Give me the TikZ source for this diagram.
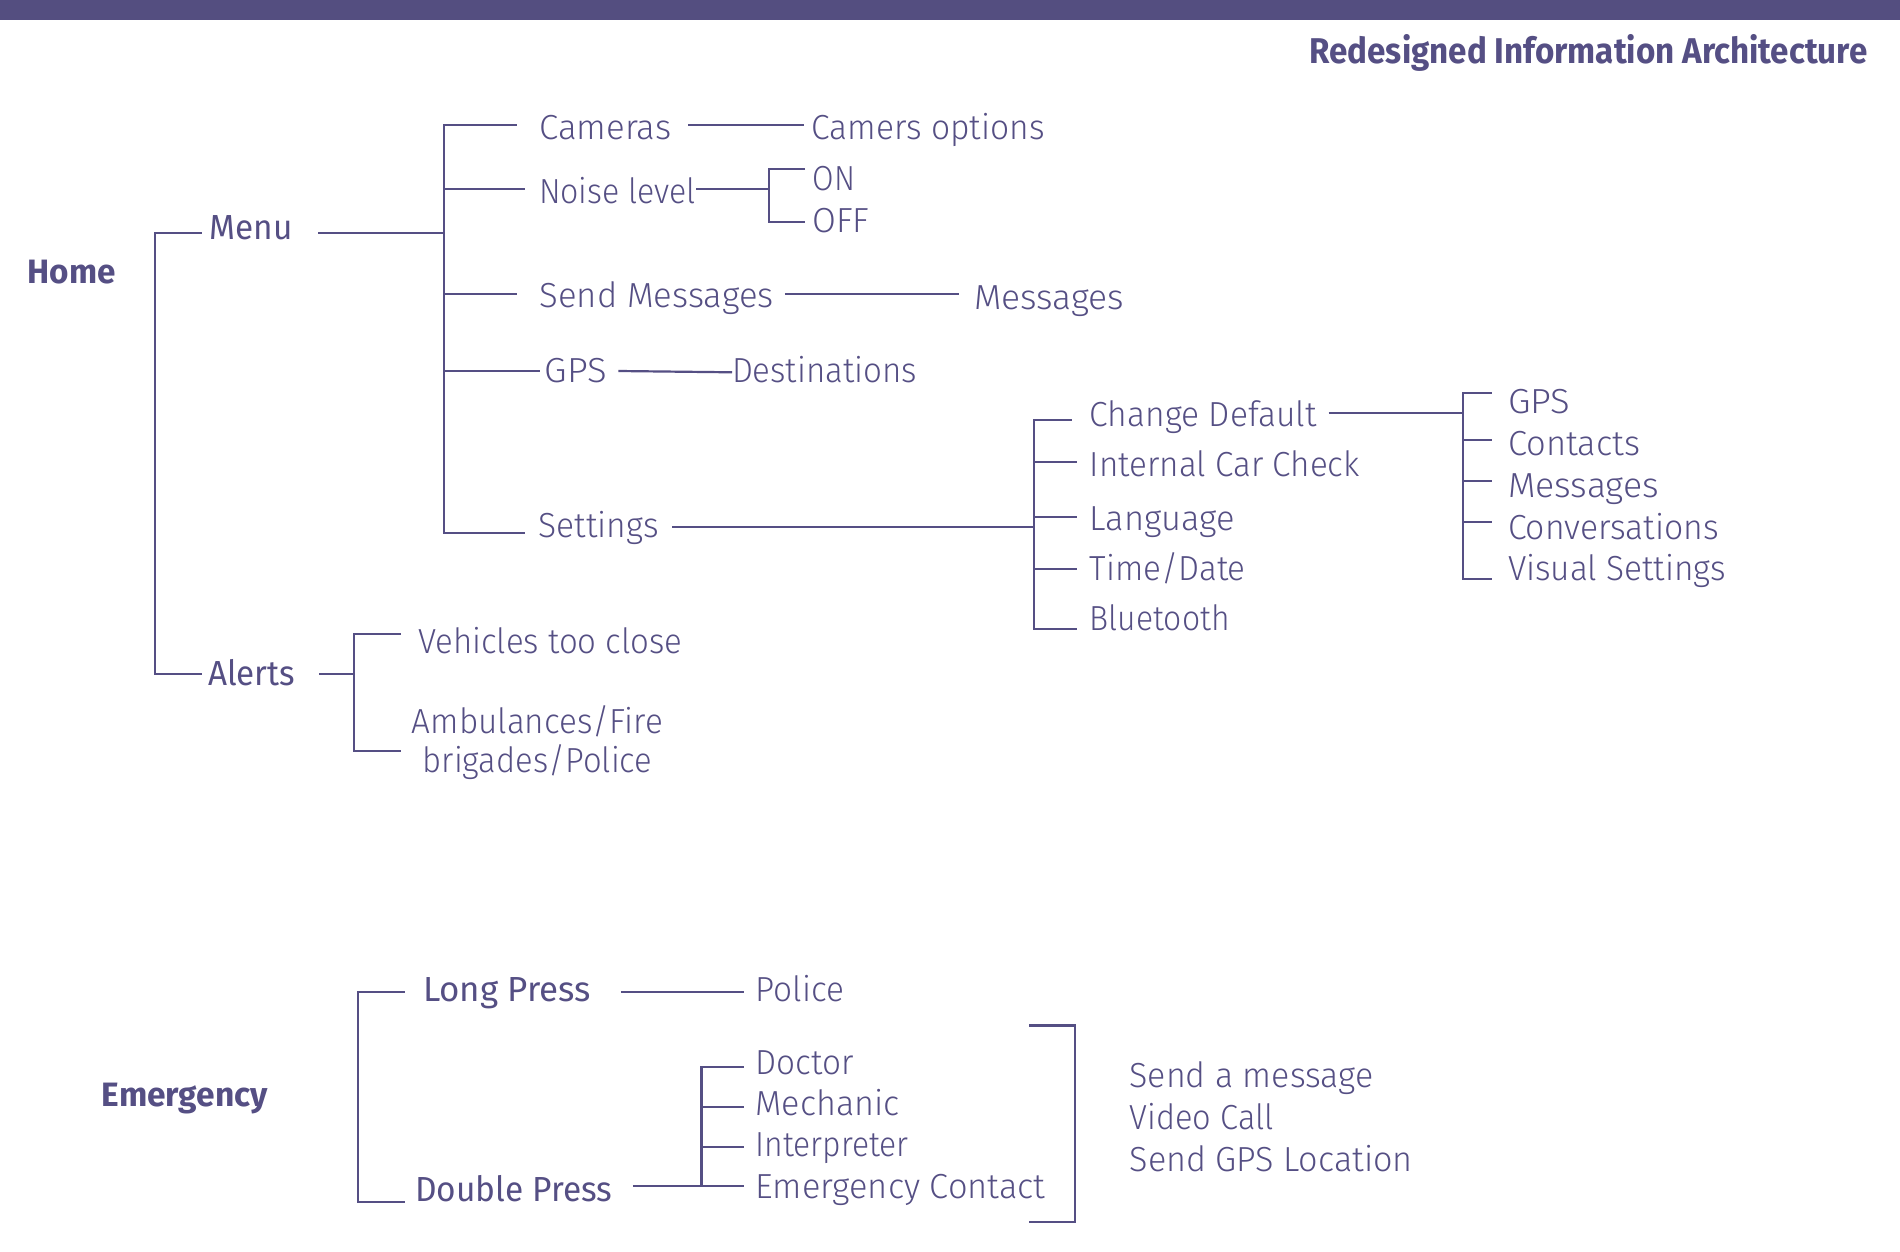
\documentclass[tikz,border=0pt]{standalone}
\usepackage{fontspec}
\usepackage{graphicx}
\setmainfont{Fira Sans}[UprightFont={* Light}, BoldFont={* Bold}]
\newfontfamily\regfont{Fira Sans}
\newfontfamily\boldfont{Fira Sans}[UprightFont={* Bold}]
\definecolor{ac}{RGB}{85,79,132}
\definecolor{barc}{RGB}{84,78,128}
\newcommand\W[2]{\resizebox{#1pt}{\height}{#2}}
\tikzset{
  conn/.style={draw=ac, line width=2.2pt, line join=miter},
  lt/.style={anchor=base west, inner sep=0pt, outer sep=0pt, text=ac, font=\fontsize{34.8}{39}\selectfont},
  rg/.style={lt, font=\regfont\fontsize{34.8}{40}\selectfont},
  bd/.style={lt, font=\boldfont\fontsize{33.8}{40}\selectfont},
}
\begin{document}
\begin{tikzpicture}[x=1pt, y=-1pt]
\useasboundingbox (0,0) rectangle (1900,1252);
\fill[white] (0,0) rectangle (1900,1252);
\fill[barc] (0,0) rectangle (1900,20);

% title
\node[bd, anchor=base east, font=\boldfont\fontsize{35.8}{40}\selectfont] (title) at (1867.5,64) {\W{558}{Redesigned Information Architecture}};

% ---------- Home ----------
\node[bd] (home) at (27.7,283.3) {\W{88}{Home}};
\node[rg] (menu) at (209.8,240) {\W{83}{Menu}};
\node[rg] (alerts) at (208,685) {\W{87}{Alerts}};

\coordinate (hT) at (155,232.7);
\coordinate (hB) at (155,674);
\coordinate (hM) at (201.8,232.7);
\coordinate (hA) at (201.5,674);
\draw[conn] (hM) -- (hT) -- (hB) -- (hA);

% Menu
\node[lt] (cameras) at (539.3,139.3) {\W{132}{Cameras}};
\node[lt] (camopt) at (811.6,139.3) {\W{233}{Camers options}};
\node[lt] (noise) at (539,203.3) {\W{157}{Noise level}};
\node[lt] (on) at (812.5,190.7) {\W{42.5}{ON}};
\node[lt] (off) at (812.5,232.3) {\W{57}{OFF}};
\node[lt] (sendmsg) at (539.7,307.7) {\W{234}{Send Messages}};
\node[lt] (messages) at (974,309.3) {\W{150}{Messages}};
\node[lt] (gps) at (544.6,382.7) {\W{62}{GPS}};
\node[lt] (dest) at (732,382.7) {\W{185}{Destinations}};
\node[lt] (settings) at (538.8,537.3) {\W{120}{Settings}};

\coordinate (mR) at (318,232.7);
\coordinate (mJ) at (444,232.7);
\draw[conn] (mR) -- (mJ);
\coordinate (mT) at (444,125);
\coordinate (mB) at (444,533.3);
\coordinate (mc) at (516.5,125);
\coordinate (mn) at (525.4,189.3);
\coordinate (mn0) at (444,189.3);
\coordinate (ms) at (516.5,294.3);
\coordinate (ms0) at (444,294.3);
\coordinate (mg) at (540,371);
\coordinate (mg0) at (444,371);
\coordinate (mse) at (525.4,533.3);
\draw[conn] (mc) -- (mT) -- (mB) -- (mse);
\draw[conn] (mn0) -- (mn);
\draw[conn] (ms0) -- (ms);
\draw[conn] (mg0) -- (mg);

% Cameras
\coordinate (c1) at (688.4,125);
\coordinate (c2) at (803.6,125);
\draw[conn] (c1) -- (c2);
% Noise
\coordinate (n1) at (696.4,189.3);
\coordinate (n2) at (769.2,189.3);
\coordinate (nT) at (769.2,169);
\coordinate (nB) at (769.2,222.3);
\coordinate (nOn) at (805,169);
\coordinate (nOff) at (805,222.3);
\draw[conn] (n1) -- (n2);
\draw[conn] (nOn) -- (nT) -- (nB) -- (nOff);
% Send messages
\coordinate (s1) at (784.8,294.3);
\coordinate (s2) at (958.5,294.3);
\draw[conn] (s1) -- (s2);
% GPS
\coordinate (g1) at (618.3,371);
\coordinate (g2) at (732,372.3);
\draw[conn] (g1) -- (g2);

% Settings
\node[lt] (chdef) at (1089.7,426.7) {\W{227}{Change Default}};
\node[lt] (icc) at (1089.7,476.7) {\W{270}{Internal Car Check}};
\node[lt] (lang) at (1089.7,530) {\W{145}{Language}};
\node[lt] (time) at (1089.7,580) {\W{156}{Time/Date}};
\node[lt] (bt) at (1089.7,630.7) {\W{140}{Bluetooth}};

\coordinate (st1) at (672,526.7);
\coordinate (st2) at (1033.6,526.7);
\draw[conn] (st1) -- (st2);
\coordinate (sT) at (1033.6,420);
\coordinate (sB) at (1033.6,629.3);
\coordinate (sc) at (1071.8,420);
\coordinate (si0) at (1033.6,462.3);
\coordinate (si) at (1077,462.3);
\coordinate (sl0) at (1033.6,517.3);
\coordinate (sl) at (1077,517.3);
\coordinate (sd0) at (1033.6,569.3);
\coordinate (sd) at (1077,569.3);
\coordinate (sb) at (1077,629.3);
\draw[conn] (sc) -- (sT) -- (sB) -- (sb);
\draw[conn] (si0) -- (si);
\draw[conn] (sl0) -- (sl);
\draw[conn] (sd0) -- (sd);

% Change default
\node[lt] (sgps) at (1508,413.3) {\W{62}{GPS}};
\node[lt] (contacts) at (1508,455) {\W{132}{Contacts}};
\node[lt] (smsgs) at (1508,497.3) {\W{151}{Messages}};
\node[lt] (conv) at (1508,539) {\W{211}{Conversations}};
\node[lt] (visual) at (1508,580) {\W{218}{Visual Settings}};

\coordinate (cd1) at (1328.5,413.3);
\coordinate (cd2) at (1462.7,413.3);
\draw[conn] (cd1) -- (cd2);
\coordinate (rT) at (1462.7,393.3);
\coordinate (rB) at (1462.7,579.3);
\coordinate (rg) at (1491.7,393.3);
\coordinate (rc0) at (1462.7,440);
\coordinate (rc) at (1491.7,440);
\coordinate (rm0) at (1462.7,480.7);
\coordinate (rm) at (1491.7,480.7);
\coordinate (rv0) at (1462.7,522);
\coordinate (rv) at (1491.7,522);
\coordinate (rs) at (1491.7,579.3);
\draw[conn] (rg) -- (rT) -- (rB) -- (rs);
\draw[conn] (rc0) -- (rc);
\draw[conn] (rm0) -- (rm);
\draw[conn] (rv0) -- (rv);

% Alerts
\node[lt] (vehicles) at (418.4,653.3) {\W{264}{Vehicles too close}};
\node[lt, anchor=base, align=center] (amb) at (537.5,772.3) {\W{251}{Ambulances/Fire}\\\W{229.4}{brigades/Police}};
\coordinate (a1) at (319,674);
\coordinate (a2) at (353.6,674);
\draw[conn] (a1) -- (a2);
\coordinate (aT) at (353.6,634.3);
\coordinate (aB) at (353.6,750.7);
\coordinate (av) at (400.5,634.3);
\coordinate (aa) at (400.5,750.7);
\draw[conn] (av) -- (aT) -- (aB) -- (aa);

% ---------- Emergency ----------
\node[bd] (emerg) at (101.7,1106.7) {\W{166}{Emergency}};
\node[rg] (long) at (423,1001.7) {\W{168}{Long Press}};
\node[rg] (double) at (415.3,1201.7) {\W{197}{Double Press}};
\node[lt] (police) at (755.5,1001.7) {\W{88.5}{Police}};
\node[lt] (doctor) at (755.5,1074) {\W{98}{Doctor}};
\node[lt] (mech) at (755.5,1115.7) {\W{144}{Mechanic}};
\node[lt] (interp) at (755.5,1156.7) {\W{153}{Interpreter}};
\node[lt] (ec) at (755.5,1198.3) {\W{290}{Emergency Contact}};
\node[lt] (sam) at (1129.6,1087.7) {\W{244}{Send a message}};
\node[lt] (vc) at (1129.6,1129.3) {\W{144}{Video Call}};
\node[lt] (sgl) at (1129.6,1171.7) {\W{283}{Send GPS Location}};

\coordinate (eT) at (357.8,991.7);
\coordinate (eB) at (357.8,1201.7);
\coordinate (el) at (404.8,991.7);
\coordinate (ed) at (404.8,1201.7);
\draw[conn] (el) -- (eT) -- (eB) -- (ed);
\coordinate (lp1) at (620.8,991.7);
\coordinate (lp2) at (743.6,991.7);
\draw[conn] (lp1) -- (lp2);
\coordinate (dp1) at (632.8,1186);
\coordinate (dp2) at (743.6,1186);
\draw[conn] (dp1) -- (dp2);
\coordinate (dT) at (701.5,1066.7);
\coordinate (dB) at (701.5,1186);
\coordinate (dd) at (743.6,1066.7);
\coordinate (dm0) at (701.5,1106.7);
\coordinate (dm) at (743.6,1106.7);
\coordinate (di0) at (701.5,1147.3);
\coordinate (di) at (743.6,1147.3);
\draw[conn] (dd) -- (dT) -- (dB);
\draw[conn] (dm0) -- (dm);
\draw[conn] (di0) -- (di);
\coordinate (bT0) at (1029,1025.5);
\coordinate (bT) at (1074.8,1025.5);
\coordinate (bB) at (1074.8,1222);
\coordinate (bB0) at (1029,1222);
\draw[conn] (bT0) -- (bT) -- (bB) -- (bB0);
\end{tikzpicture}
\end{document}
